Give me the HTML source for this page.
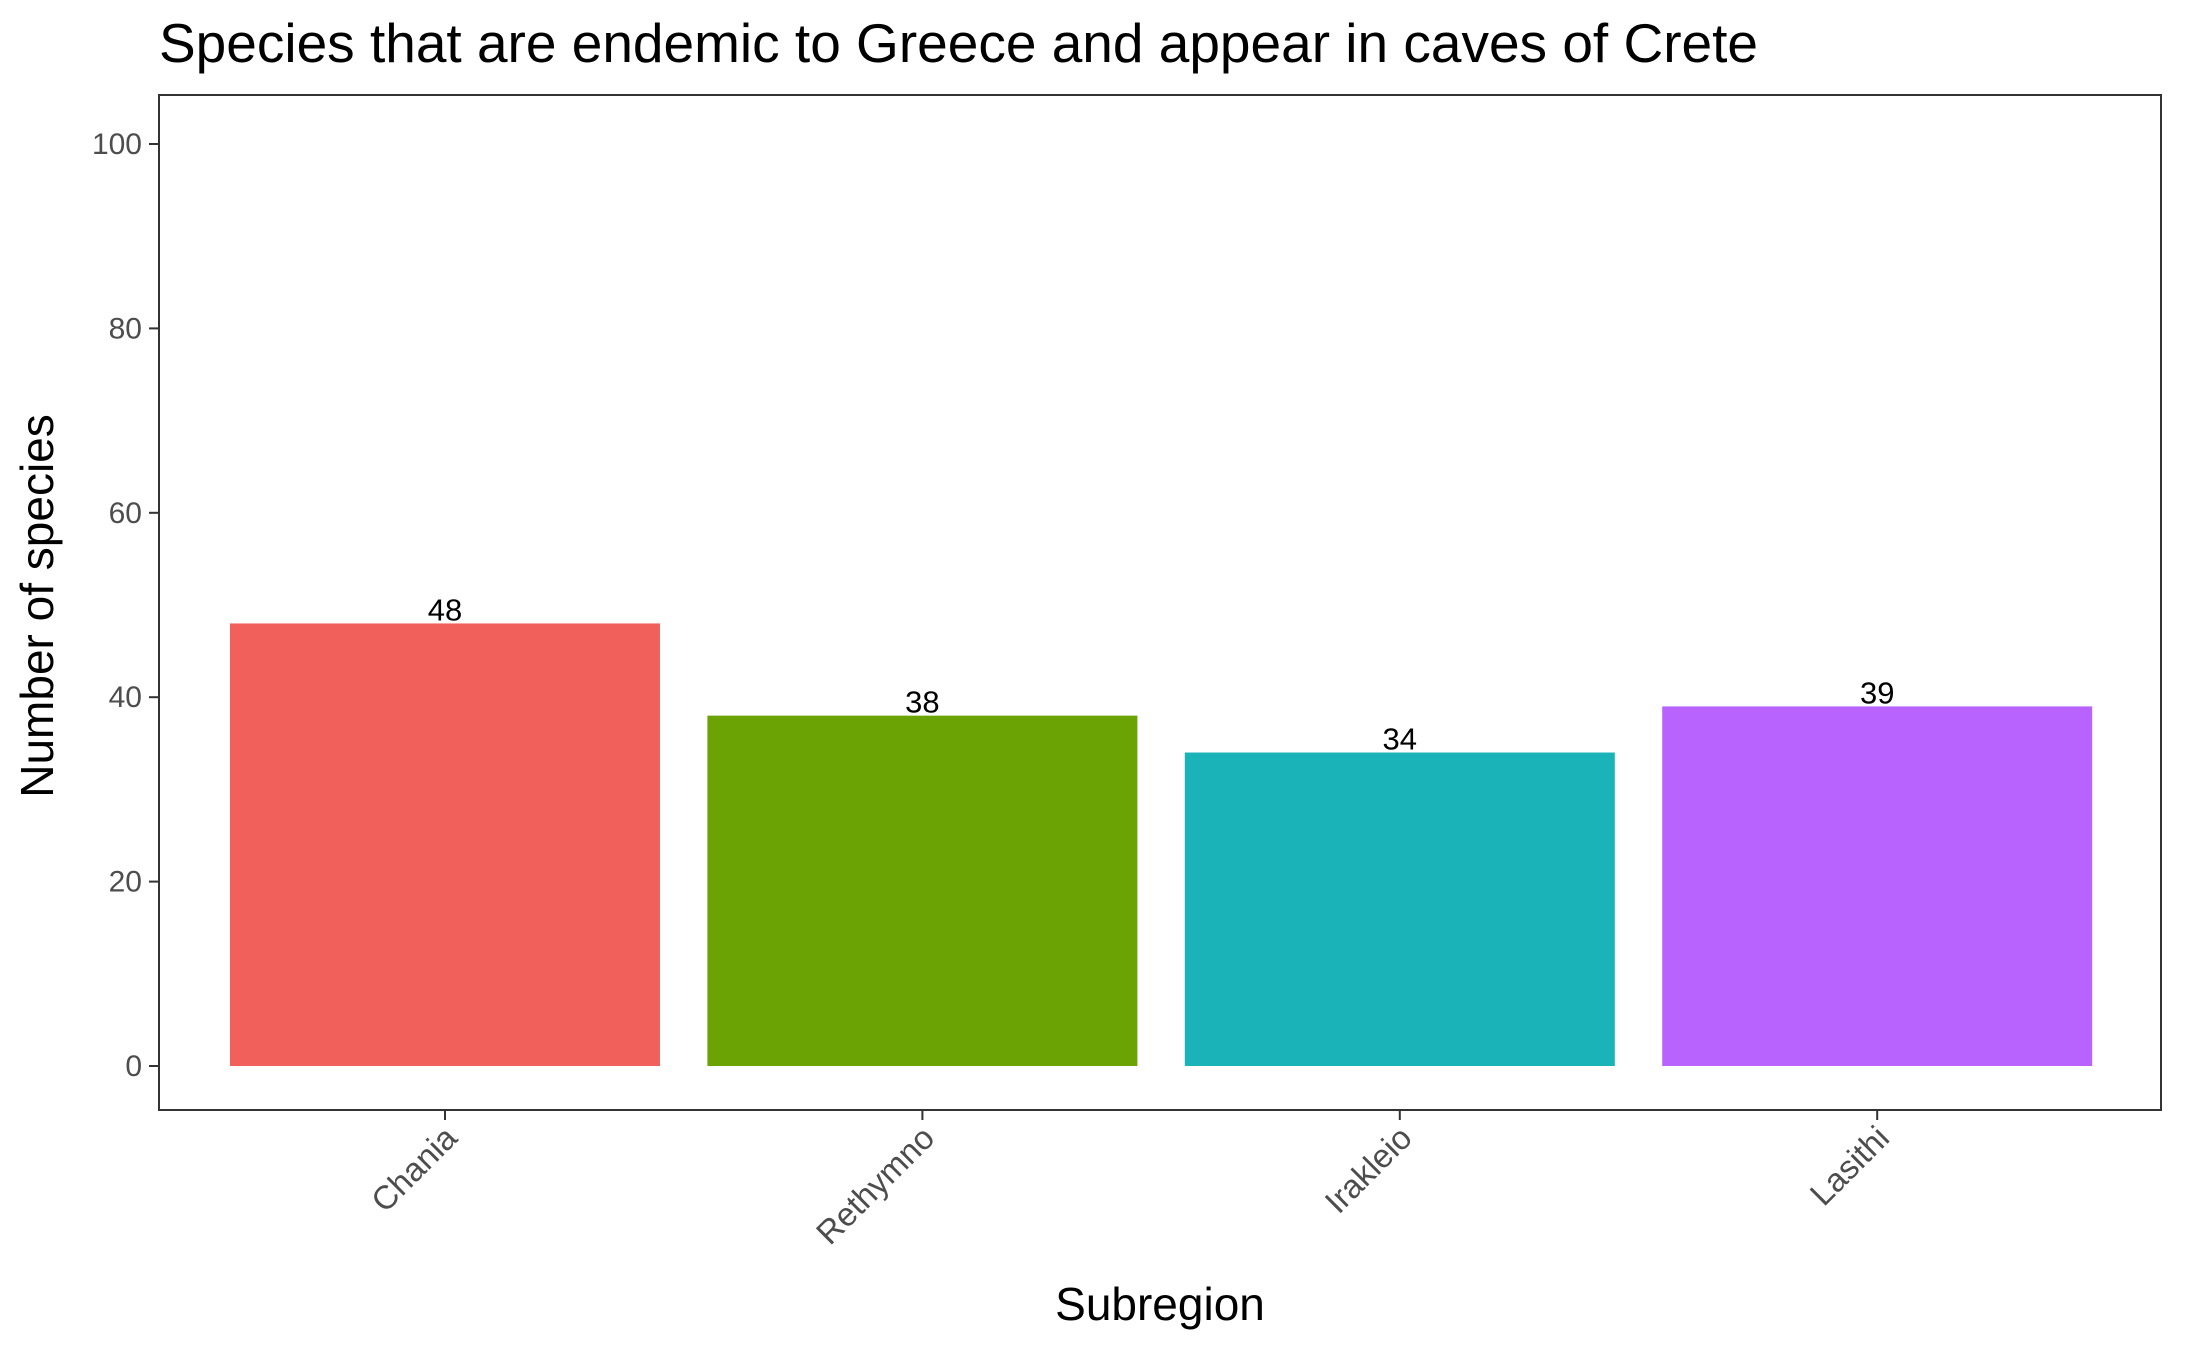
<!DOCTYPE html>
<html><head><meta charset="utf-8"><style>html,body{margin:0;padding:0;background:#fff}svg{display:block;font-family:"Liberation Sans",Arial,sans-serif}</style></head>
<body>
<svg id="chart" width="2187" height="1351" viewBox="0 0 2187 1351" xmlns="http://www.w3.org/2000/svg">
<rect width="2187" height="1351" fill="#fff"/>
<text x="159" y="62" font-size="55" fill="#000">Species that are endemic to Greece and appear in caves of Crete</text>
<g id="plot"></g>
<rect x="159" y="95" width="2002" height="1015" fill="none" stroke="#333" stroke-width="2"/>
<text transform="translate(53,606) rotate(-90)" text-anchor="middle" font-size="46" fill="#000">Number of species</text>
<text x="1160" y="1320" text-anchor="middle" font-size="46" fill="#000">Subregion</text>
</svg>
<script>
const categories = ["Chania","Rethymno","Irakleio","Lasithi"];
const values = [48,38,34,39];
const colors = ["#F2605B","#6BA305","#1AB3B8","#B963FF"];
const yTicks = [0,20,40,60,80,100];
const ns="http://www.w3.org/2000/svg";
const g=document.getElementById('plot');
const y0=1066,y100=144;
function yScale(v){return y0-(y0-y100)*v/100;}
function xScale(i){return 445+i*477.4;}
const bw=430;
function mk(t,a){const e=document.createElementNS(ns,t);for(const k in a)e.setAttribute(k,a[k]);g.appendChild(e);return e;}
yTicks.forEach(t=>{
  const l=mk('line',{x1:149,x2:159,y1:yScale(t),y2:yScale(t),stroke:'#333','stroke-width':2});
  
  
  const tx=mk('text',{x:142,y:yScale(t)+10,'text-anchor':'end','font-size':30,fill:'#4d4d4d'});
  tx.textContent=t;
  
  
});
categories.forEach((c,i)=>{
  const x=xScale(i),v=values[i];
  const r=mk('rect',{x:x-bw/2,y:yScale(v),width:bw,height:yScale(0)-yScale(v),fill:colors[i]});
  
  
  const lb=mk('text',{x:x,y:yScale(v)-3,'text-anchor':'middle','font-size':31,fill:'#000'});
  lb.textContent=v;
  
  
  const tk=mk('line',{x1:x,x2:x,y1:1110,y2:1120,stroke:'#333','stroke-width':2});
  
  
  const xl=mk('text',{transform:`translate(${x+14},${1140}) rotate(-45)`,'text-anchor':'end','font-size':33,fill:'#4d4d4d'});
  xl.textContent=c;
  
  
});
</script>
</body></html>
